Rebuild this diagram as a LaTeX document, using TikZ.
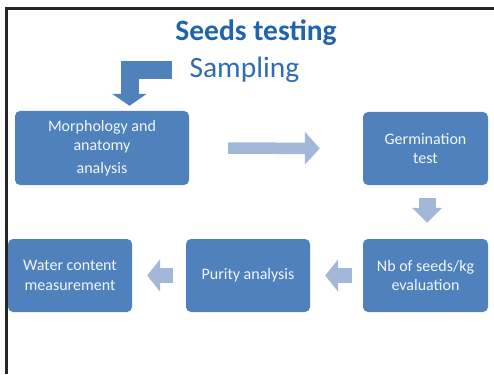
\documentclass[tikz,border=0pt]{standalone}
\usepackage{fontspec}
\setmainfont{Carlito}
\usepackage{xcolor}
\usepackage{tikz}
\usetikzlibrary{arrows.meta,positioning}
\definecolor{clrBox}{HTML}{4F81BD}
\definecolor{clrFlow}{HTML}{A3B7D8}
\definecolor{clrTitle}{HTML}{1F64AD}
\definecolor{clrSub}{HTML}{2E6DB4}
\tikzset{
  stage/.style={rectangle, rounded corners=5pt, fill=clrBox, draw=none,
    align=center, text=white!93!clrBox, inner sep=2pt,
    font=\fontsize{16}{19.5}\selectfont},
  flow/.style={-{Triangle[length=15pt, width=32pt]}, line width=11.5pt,
    clrFlow},
  feed/.style={-{Triangle[length=12pt, width=34pt]}, line width=18pt,
    clrBox, line join=miter},
  frameline/.style={line width=3pt, black!85},
}

\begin{document}
\begin{tikzpicture}[x=1pt, y=-1pt]
\useasboundingbox (0,0) rectangle (494,374);

% ── frame (top and left edge only) ─────────────────────────────────────────
\coordinate (fTL) at (6.5,8.5);
\coordinate (fTR) at (494,8.5);
\coordinate (fBL) at (6.5,374);
\draw[frameline] (fTR) -- (fTL) -- (fBL);

% ── headings ───────────────────────────────────────────────────────────────
\node[font=\fontsize{29.5}{33}\selectfont\bfseries, text=clrTitle] (title)
  at (256,33) {Seeds testing};
\node[font=\fontsize{29.5}{33}\selectfont, text=clrSub, anchor=west] (sampling)
  at (186,70) {Sampling};

% ── upper row ──────────────────────────────────────────────────────────────
\node[stage, minimum width=174pt, minimum height=74pt] (morph) at (102,148)
  {Morphology and\\anatomy\\[3pt]analysis};
\node[stage, minimum width=125pt, minimum height=73pt] (germ) at (425.5,148.5)
  {Germination\\test};

% ── lower row ──────────────────────────────────────────────────────────────
\node[stage, minimum width=124pt, minimum height=73pt] (water) at (70,275.5)
  {Water content\\measurement};
\node[stage, minimum width=124pt, minimum height=73pt] (purity) at (248,275.5)
  {Purity analysis};
\node[stage, minimum width=125pt, minimum height=73pt] (nbseeds) at (425.5,275.5)
  {Nb of seeds/kg\\evaluation};

% ── arrows ─────────────────────────────────────────────────────────────────
\draw[feed, shorten <=14pt, shorten >=5pt]
  (sampling.west) -| ([xshift=27.5pt]morph.north);
\draw[flow, shorten <=39pt, shorten >=43pt] (morph.east) -- (germ.west);
\draw[flow, line width=17pt, -{Triangle[length=15pt, width=29pt]},
  shorten <=13pt, shorten >=16pt] ([xshift=1.5pt]germ.south) -- ([xshift=1.5pt]nbseeds.north);
\draw[flow, line width=15pt, -{Triangle[length=13pt, width=32pt]},
  shorten <=11pt, shorten >=15pt] (nbseeds.west) -- (purity.east);
\draw[flow, line width=15pt, -{Triangle[length=13pt, width=32pt]},
  shorten <=13pt, shorten >=15pt] (purity.west) -- (water.east);

\end{tikzpicture}
\end{document}
